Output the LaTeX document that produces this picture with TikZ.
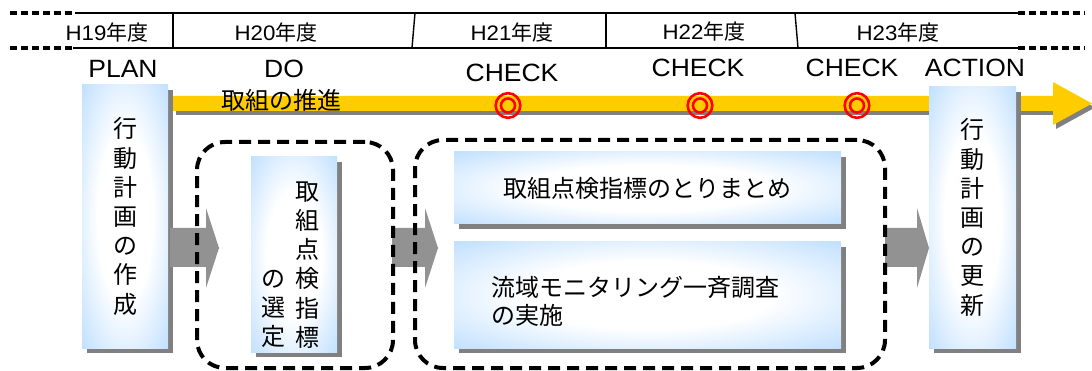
\documentclass[tikz,border=0pt]{standalone}
\usepackage{fontspec}
\setmainfont{Liberation Sans}
\newfontfamily\jp{Noto Sans CJK JP}
\newfontfamily\lat[FakeStretch=1.06]{Liberation Sans}
\usetikzlibrary{shadows}
\definecolor{boxblue}{RGB}{153,204,255}
\definecolor{shadowgray}{RGB}{128,128,128}
\definecolor{arrowgray}{RGB}{146,146,146}
\definecolor{baryellow}{RGB}{255,204,0}
\definecolor{ringred}{RGB}{255,0,0}
\pgfdeclareradialshading{boxshade}{\pgfpoint{0bp}{0bp}}{color(0bp)=(white); color(16bp)=(white); color(48bp)=(boxblue); color(100bp)=(boxblue)}
\begin{document}
\begin{tikzpicture}[x=1pt,y=-1pt,
  stepbox/.style={draw=none, shading=boxshade, inner sep=0pt,
    drop shadow={shadow xshift=5pt, shadow yshift=-5pt, fill=shadowgray, opacity=1}},
  jtext/.style={font=\jp\fontsize{24}{29.2}\selectfont, inner sep=0pt, align=center},
  grp/.style={draw=black, line width=4pt, dash pattern=on 12pt off 7pt, rounded corners=28pt, inner sep=0pt},
  phase/.style={font=\lat\fontsize{25}{30}\selectfont, inner sep=0pt},
  year/.style={font=\jp\fontsize{21}{25}\selectfont, inner sep=0pt},
  ring/.style={draw=ringred, line width=2.6pt},
  flow/.style={fill=arrowgray},
  hdr/.style={line width=1.4pt},
  hdrdash/.style={line width=3.2pt, dash pattern=on 7pt off 4pt}]
\useasboundingbox (0,0) rectangle (1092,371);

% header band
\draw[hdr] (75,13) -- (1018,13);
\draw[hdr] (73,48) -- (1018,48);
\draw[hdrdash] (10,13) -- (75,13);
\draw[hdrdash] (10,48) -- (73,48);
\draw[hdrdash] (1018,13) -- (1085,13);
\draw[hdrdash] (1018,48) -- (1085,48);
\draw[hdr] (173,13) -- (173,48);
\draw[hdr] (415,13) -- (412,48);
\draw[hdr] (606,13) -- (606,48);
\draw[hdr] (795,13) -- (798,48);

\node[year] (y19) at (107,33) {{\lat H19}年度};
\node[year] (y20) at (276,33) {{\lat H20}年度};
\node[year] (y21) at (512,33) {{\lat H21}年度};
\node[year] (y22) at (704,32) {{\lat H22}年度};
\node[year] (y23) at (898,33) {{\lat H23}年度};

% phase labels
\node[phase] (plan) at (123,69) {PLAN};
\node[phase] (do) at (284,69) {DO};
\node[phase] (chk1) at (512,73) {CHECK};
\node[phase] (chk2) at (698,68) {CHECK};
\node[phase] (chk3) at (852,68) {CHECK};
\node[phase] (act) at (975,68) {ACTION};

% yellow progress arrow
\fill[shadowgray] (176,100) -- (1056,100) -- (1056,86) -- (1095,107.5) -- (1056,129) -- (1056,115) -- (176,115) -- cycle;
\fill[baryellow] (173,96) -- (1053,96) -- (1053,82) -- (1092,103.5) -- (1053,125) -- (1053,111) -- (173,111) -- cycle;
\node[font=\jp\fontsize{24}{28}\selectfont, inner sep=0pt] (promo) at (281,100) {取組の推進};

% check marks
\foreach \cx/\nm in {508/r1,700/r2,857/r3}{
  \draw[ring] (\cx,105.5) circle[radius=12.3];
  \draw[ring] (\cx,105.5) circle[radius=7];
}

% boxes
\node[stepbox, minimum width=86pt, minimum height=263pt, jtext] (make) at (125,216.5)
  {行\\動\\計\\画\\の\\作\\成};
\node[stepbox, minimum width=86pt, minimum height=195pt] (select) at (294,254.5) {};
\node[jtext] (selA) at (307,265) {取\\組\\点\\検\\指\\標};
\node[jtext] (selB) at (273,309) {の\\選\\定};
\node[stepbox, minimum width=387pt, minimum height=72pt, jtext] (summ) at (647.5,188)
  {取組点検指標のとりまとめ};
\node[stepbox, minimum width=387pt, minimum height=106pt] (survey) at (647.5,295) {};
\node[jtext, align=left, anchor=west, font=\jp\fontsize{24}{28}\selectfont] (surveyT) at (491,301)
  {流域モニタリング一斉調査\\の実施};
\node[stepbox, minimum width=87pt, minimum height=261pt, jtext] (update) at (972.5,217.5)
  {行\\動\\計\\画\\の\\更\\新};

% gray block arrows
\fill[flow] (170,228) -- (206,228) -- (206,208) -- (219,248) -- (206,288) -- (206,267) -- (170,267) -- cycle;
\fill[flow] (392,228) -- (425,228) -- (425,208) -- (438,248) -- (425,288) -- (425,267) -- (392,267) -- cycle;
\fill[flow] (885,228) -- (917,228) -- (917,208) -- (929,248) -- (917,288) -- (917,267) -- (885,267) -- cycle;

% dashed groups
\node[grp, minimum width=196pt, minimum height=226pt] (g1) at (295,255) {};
\node[grp, minimum width=470pt, minimum height=228pt] (g2) at (650,254) {};
\end{tikzpicture}
\end{document}
